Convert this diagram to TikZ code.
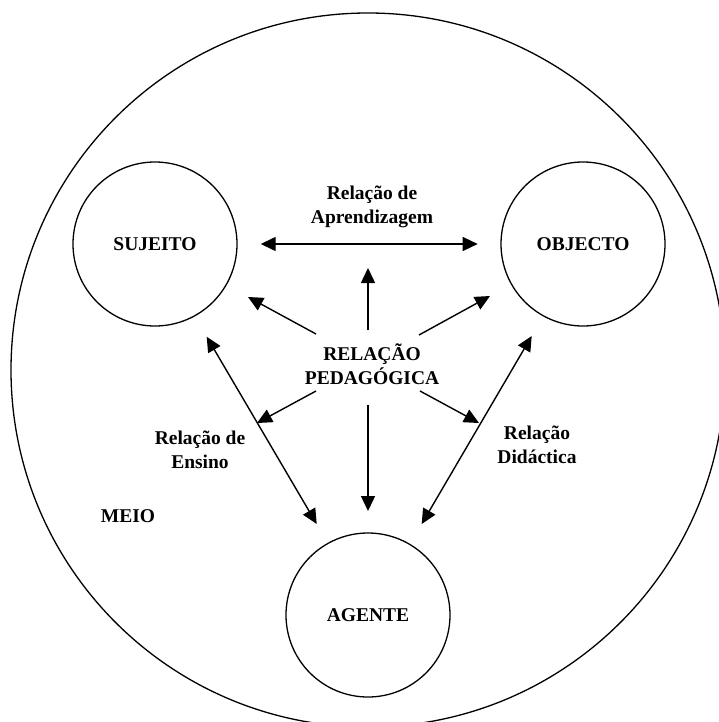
\documentclass[tikz,border=0pt]{standalone}
\usepackage{fontspec}
\setmainfont{Liberation Serif}
\usetikzlibrary{arrows.meta}
\begin{document}
\begin{tikzpicture}[x=1pt,y=-1pt,
  ln/.style={line width=1.4pt},
  tip/.style={-{Triangle[length=15pt,width=14pt]}},
  dtip/.style={{Triangle[length=15pt,width=14pt]}-{Triangle[length=15pt,width=14pt]}},
  ent/.style={circle,draw,line width=1.3pt,minimum size=164pt,inner sep=0pt,font=\bfseries\fontsize{19.5}{24}\selectfont},
  lab/.style={align=center,inner sep=0pt,font=\bfseries\fontsize{19.5}{24}\selectfont}]
\useasboundingbox (0,0) rectangle (719,722);
\node[circle,draw,line width=1.3pt,minimum size=714pt,inner sep=0pt] (meio) at (368,370) {};
\node[ent] (suj) at (155,244) {SUJEITO};
\node[ent] (obj) at (583,244) {OBJECTO};
\node[ent] (ag) at (368,615) {AGENTE};
\node[lab] (aprend) at (372,207) {Relação de\\Aprendizagem};
\node[lab] (ped) at (372,364) {RELAÇÃO\\PEDAGÓGICA};
\node[lab] (ens) at (200,450) {Relação de\\Ensino};
\node[lab] (did) at (537,445) {Relação\\Didáctica};
\node[lab] (meiot) at (128,516) {MEIO};
% arrow end points
\coordinate (pu0) at (368,330); \coordinate (pu1) at (368,268);
\coordinate (pd0) at (368,405); \coordinate (pd1) at (368,511);
\coordinate (pul0) at (316,334); \coordinate (pul1) at (248,297);
\coordinate (pur0) at (419,335); \coordinate (pur1) at (490,296);
\coordinate (pdl0) at (316,391); \coordinate (pdl1) at (257,423);
\coordinate (pdr0) at (420,391); \coordinate (pdr1) at (479,423);
\coordinate (sa0) at (206.7,336.7); \coordinate (sa1) at (316.7,524);
\coordinate (oa0) at (531.7,336); \coordinate (oa1) at (421.7,524);
\coordinate (so0) at (260.7,244); \coordinate (so1) at (477.7,244);
\draw[ln,dtip] (so0) -- (so1);
\draw[ln,dtip] (sa0) -- (sa1);
\draw[ln,dtip] (oa0) -- (oa1);
\draw[ln,tip] (pu0) -- (pu1);
\draw[ln,tip] (pd0) -- (pd1);
\draw[ln,tip] (pul0) -- (pul1);
\draw[ln,tip] (pur0) -- (pur1);
\draw[ln,tip] (pdl0) -- (pdl1);
\draw[ln,tip] (pdr0) -- (pdr1);
\end{tikzpicture}
\end{document}
